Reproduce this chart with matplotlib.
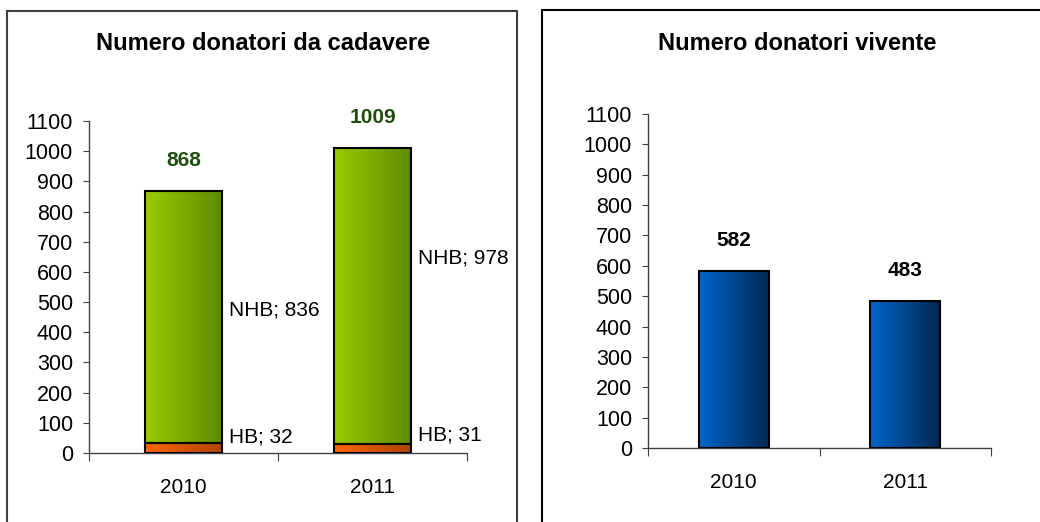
import numpy as np
import matplotlib.pyplot as plt
from matplotlib.colors import LinearSegmentedColormap
from matplotlib.patches import Rectangle

plt.rcParams['font.family'] = ['Liberation Sans', 'DejaVu Sans']

years = ['2010', '2011']
hb = [32, 31]
nhb = [836, 978]
totali_cadavere = [868, 1009]
viventi = [582, 483]
nhb_label_y = [473, 646]
hb_label_y = [53, 60]

GREEN = LinearSegmentedColormap.from_list('g', ['#99CC00', '#5E8A00'])
ORANGE = LinearSegmentedColormap.from_list('o', ['#FF6600', '#AD4400'])
BLUE = LinearSegmentedColormap.from_list('b', ['#0066CC', '#00274F'])


def gradient_bars(ax, bars, cmap):
    grad = np.linspace(0, 1, 256).reshape(1, -1)
    for b in bars:
        x0, y0 = b.get_x(), b.get_y()
        w, h = b.get_width(), b.get_height()
        im = ax.imshow(grad, cmap=cmap, aspect='auto', extent=(x0, x0 + w, y0, y0 + h),
                       zorder=b.get_zorder() - 0.1, interpolation='bilinear')
        im.set_clip_path(b)
        b.set_facecolor('none')


def style_axes(ax):
    ax.set_xlim(-0.5, 1.5)
    ax.set_ylim(0, 1100)
    ax.set_yticks(np.arange(0, 1101, 100))
    ax.spines['top'].set_visible(False)
    ax.spines['right'].set_visible(False)
    for s in ['left', 'bottom']:
        ax.spines[s].set_color('#404040')
        ax.spines[s].set_linewidth(1.0)
    ax.tick_params(axis='y', direction='out', length=4.5, color='#404040', labelsize=15.5, pad=7)
    ax.set_xticks([-0.5, 0.5, 1.5])
    ax.set_xticklabels([])
    ax.tick_params(axis='x', which='major', direction='out', length=6, color='#404040')
    ax.set_xticks([0, 1], minor=True)
    ax.set_xticklabels(years, minor=True)
    ax.tick_params(axis='x', which='minor', length=0, labelsize=15, pad=18)
    ax.set_aspect('auto')


fig = plt.figure(figsize=(10.4, 5.22), dpi=100)

# panel frames
fig.patches.append(Rectangle((7 / 1040, -0.05), 510 / 1040, 1.05 - 11 / 522,
                             transform=fig.transFigure, fill=False, edgecolor='#404040', lw=1.5))
fig.patches.append(Rectangle((542 / 1040, -0.05), 520 / 1040, 1.05 - 10 / 522,
                             transform=fig.transFigure, fill=False, edgecolor='black', lw=1.5))

# left: donatori da cadavere
ax1 = fig.add_axes([89 / 1040, 69 / 522, 378 / 1040, 332 / 522])
x = np.arange(len(years))
b_hb = ax1.bar(x, hb, width=0.41, edgecolor='black', linewidth=1.5, zorder=3)
b_nhb = ax1.bar(x, nhb, bottom=hb, width=0.41, edgecolor='black', linewidth=1.5, zorder=3)
gradient_bars(ax1, b_hb, ORANGE)
gradient_bars(ax1, b_nhb, GREEN)
style_axes(ax1)
for i in range(len(years)):
    ax1.annotate(str(totali_cadavere[i]), (x[i], totali_cadavere[i]), xytext=(0, 22),
                 textcoords='offset points', ha='center', va='center',
                 fontsize=15, fontweight='bold', color='#1F4F10')
    ax1.annotate(f'NHB; {nhb[i]}', (x[i] + 0.205, nhb_label_y[i]), xytext=(5, 0),
                 textcoords='offset points', ha='left', va='center', fontsize=15)
    ax1.annotate(f'HB; {hb[i]}', (x[i] + 0.205, hb_label_y[i]), xytext=(5, 0),
                 textcoords='offset points', ha='left', va='center', fontsize=15)
fig.text(263 / 1040, 1 - 44 / 522, 'Numero donatori da cadavere', ha='center', va='center',
         fontsize=17, fontweight='bold')

# right: donatori vivente
ax2 = fig.add_axes([648 / 1040, 74 / 522, 343 / 1040, 334 / 522])
b_viv = ax2.bar(x, viventi, width=0.41, edgecolor='black', linewidth=1.5, zorder=3)
gradient_bars(ax2, b_viv, BLUE)
style_axes(ax2)
for i in range(len(years)):
    ax2.annotate(str(viventi[i]), (x[i], viventi[i]), xytext=(0, 22),
                 textcoords='offset points', ha='center', va='center',
                 fontsize=15, fontweight='bold', color='black')
fig.text(797 / 1040, 1 - 43 / 522, 'Numero donatori vivente', ha='center', va='center',
         fontsize=17, fontweight='bold')

fig.savefig('out.png', dpi=100)
